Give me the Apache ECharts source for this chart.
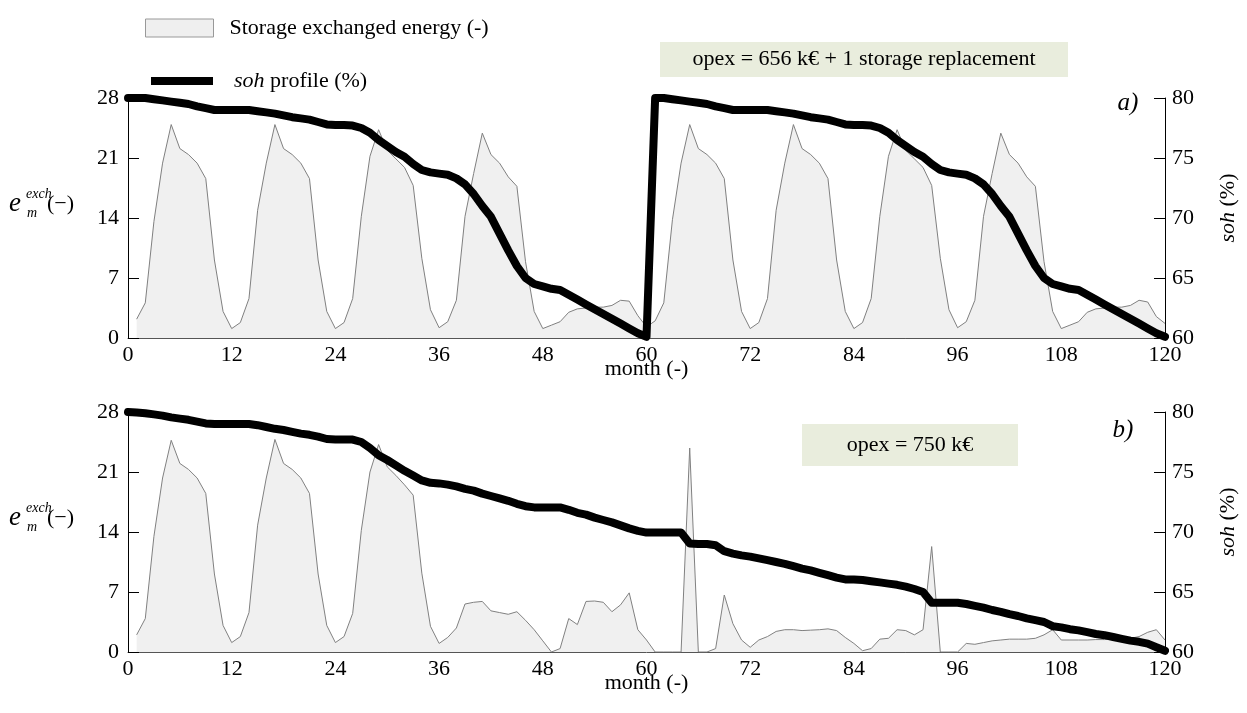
<!DOCTYPE html>
<html>
<head>
<meta charset="utf-8">
<script src="https://cdn.jsdelivr.net/npm/echarts@6/dist/echarts.min.js"></script>
<style>
  html, body { margin: 0; padding: 0; background: #fff; }
  #chart { width: 1247px; height: 713px; }
</style>
</head>
<body>
<div id="chart"></div>
<script>
// Monthly exchanged storage energy, months 1..120 (scenario a: one storage replacement)
const energyA = [
  2.2, 4.1, 13.6, 20.4, 24.9, 22.1, 21.4, 20.4, 18.6, 9.1, 3.1, 1.1,
  1.8, 4.6, 14.9, 20.4, 24.9, 22.1, 21.4, 20.4, 18.6, 9.1, 3.1, 1.1,
  1.8, 4.6, 14.2, 21.2, 24.3, 21.9, 20.9, 19.9, 17.8, 9.3, 3.3, 1.2,
  1.9, 4.4, 14.2, 19.2, 23.9, 21.4, 20.4, 18.8, 17.7, 8.9, 3.1, 1.1,
  1.5, 1.9, 3.0, 3.4, 3.5, 3.6, 3.6, 3.8, 4.4, 4.3, 2.6, 1.3,
  2.0, 4.1, 13.8, 20.4, 24.9, 22.1, 21.4, 20.4, 18.6, 9.1, 3.1, 1.1,
  1.8, 4.6, 14.9, 20.4, 24.9, 22.1, 21.4, 20.4, 18.6, 9.1, 3.1, 1.1,
  1.8, 4.6, 14.2, 21.2, 24.3, 21.9, 20.9, 19.9, 17.8, 9.3, 3.3, 1.2,
  1.9, 4.4, 14.2, 19.2, 23.9, 21.4, 20.4, 18.8, 17.7, 8.9, 3.1, 1.1,
  1.5, 1.9, 3.0, 3.4, 3.5, 3.6, 3.6, 3.8, 4.4, 4.2, 2.5, 1.7
];

// State of health, months 0..120 (scenario a)
const sohA = [
  80.0,
  80.0, 80.0, 79.9, 79.8, 79.7, 79.6, 79.5, 79.3, 79.15, 79.0, 79.0, 79.0,
  79.0, 79.0, 78.9, 78.8, 78.7, 78.55, 78.4, 78.3, 78.2, 78.0, 77.8, 77.75,
  77.75, 77.7, 77.5, 77.1, 76.5, 76.0, 75.5, 75.1, 74.5, 74.0, 73.8, 73.7,
  73.6, 73.3, 72.8, 72.0, 71.0, 70.1, 68.7, 67.3, 66.0, 65.0, 64.5, 64.3,
  64.1, 64.0, 63.6, 63.2, 62.8, 62.4, 62.0, 61.6, 61.2, 60.8, 60.4, 60.1,
  80.0, 80.0, 79.9, 79.8, 79.7, 79.6, 79.5, 79.3, 79.15, 79.0, 79.0, 79.0,
  79.0, 79.0, 78.9, 78.8, 78.7, 78.55, 78.4, 78.3, 78.2, 78.0, 77.8, 77.75,
  77.75, 77.7, 77.5, 77.1, 76.5, 76.0, 75.5, 75.1, 74.5, 74.0, 73.8, 73.7,
  73.6, 73.3, 72.8, 72.0, 71.0, 70.1, 68.7, 67.3, 66.0, 65.0, 64.5, 64.3,
  64.1, 64.0, 63.6, 63.2, 62.8, 62.4, 62.0, 61.6, 61.2, 60.8, 60.4, 60.1
];

// Monthly exchanged storage energy, months 1..120 (scenario b: no replacement)
const energyB = [
  2.0, 3.9, 13.5, 20.3, 24.7, 22.0, 21.3, 20.3, 18.5, 9.1, 3.1, 1.1,
  1.8, 4.6, 14.8, 20.3, 24.8, 22.0, 21.3, 20.3, 18.5, 9.1, 3.1, 1.1,
  1.8, 4.5, 14.2, 21.0, 24.2, 21.6, 20.6, 19.5, 18.3, 9.2, 3.0, 1.0,
  1.7, 2.8, 5.6, 5.8, 5.9, 4.8, 4.6, 4.4, 4.7, 3.7, 2.6, 1.3,
  0.0, 0.4, 3.9, 3.2, 5.9, 5.95, 5.8, 4.7, 5.5, 6.9, 2.6, 1.4,
  0.0, 0.0, 0.0, 0.0, 23.8, 0.0, 0.0, 0.4, 6.65, 3.3, 1.4, 0.55,
  1.4, 1.8, 2.4, 2.6, 2.6, 2.5, 2.55, 2.6, 2.7, 2.5, 1.7, 1.0,
  0.15, 0.4, 1.5, 1.6, 2.6, 2.5, 2.0, 2.6, 12.3, 0.0, 0.0, 0.0,
  1.0, 0.9, 1.1, 1.3, 1.4, 1.5, 1.5, 1.5, 1.6, 2.0, 2.6, 1.4,
  1.4, 1.4, 1.4, 1.45, 1.45, 1.5, 1.5, 1.6, 1.8, 2.3, 2.6, 1.4
];

// State of health, months 0..120 (scenario b)
const sohB = [
  80.0,
  79.95, 79.9, 79.8, 79.7, 79.55, 79.45, 79.35, 79.2, 79.05, 79.0, 79.0, 79.0,
  79.0, 79.0, 78.9, 78.75, 78.6, 78.5, 78.35, 78.2, 78.1, 77.95, 77.75, 77.7,
  77.7, 77.7, 77.5, 77.0, 76.4, 76.0, 75.55, 75.1, 74.7, 74.3, 74.1, 74.05,
  73.95, 73.8, 73.6, 73.45, 73.2, 73.0, 72.8, 72.6, 72.35, 72.15, 72.05, 72.05,
  72.05, 72.05, 71.85, 71.6, 71.45, 71.2, 71.0, 70.8, 70.55, 70.3, 70.1, 69.95,
  69.95, 69.95, 69.95, 69.95, 69.05, 69.0, 69.0, 68.9, 68.4, 68.2, 68.05, 67.95,
  67.8, 67.65, 67.5, 67.35, 67.15, 66.95, 66.8, 66.6, 66.4, 66.2, 66.05, 66.05,
  66.0, 65.9, 65.8, 65.7, 65.6, 65.45, 65.25, 65.0, 64.1, 64.1, 64.1, 64.1,
  64.0, 63.85, 63.7, 63.5, 63.35, 63.15, 63.0, 62.8, 62.65, 62.5, 62.15, 62.05,
  61.9, 61.8, 61.65, 61.5, 61.4, 61.25, 61.1, 60.95, 60.85, 60.7, 60.4, 60.1
];

const monthTicks = { min: 0, max: 120, interval: 12 };
const energyTicks = { min: 0, max: 28, interval: 7 };
const sohTicks = { min: 60, max: 80, interval: 5 };

const opexA = 'opex = 656 k€ + 1 storage replacement';
const opexB = 'opex = 750 k€';
const energyName = 'Storage exchanged energy (-)';
const sohName = 'soh profile (%)';

const FONT = '"Liberation Serif", "Times New Roman", serif';

const chart = echarts.init(document.getElementById('chart'));

const labelStyle = { color: '#000', fontFamily: FONT, fontSize: 22 };

function xAxisFor(gridIndex) {
  return {
    type: 'value', gridIndex,
    min: monthTicks.min, max: monthTicks.max, interval: monthTicks.interval,
    axisLine: { show: true, lineStyle: { color: '#555', width: 1 } },
    axisTick: { show: false },
    splitLine: { show: false },
    axisLabel: Object.assign({ margin: 6 }, labelStyle),
    name: 'month (-)', nameLocation: 'middle', nameGap: 20,
    nameMoveOverlap: false,
    nameTextStyle: labelStyle
  };
}

function leftAxisFor(gridIndex) {
  return {
    type: 'value', gridIndex, position: 'left',
    min: energyTicks.min, max: energyTicks.max, interval: energyTicks.interval,
    axisLine: { show: true, lineStyle: { color: '#000', width: 1 } },
    axisTick: { show: true, inside: true, length: 11, lineStyle: { color: '#000' } },
    splitLine: { show: false },
    axisLabel: Object.assign({ margin: 9 }, labelStyle)
  };
}

function rightAxisFor(gridIndex) {
  return {
    type: 'value', gridIndex, position: 'right',
    min: sohTicks.min, max: sohTicks.max, interval: sohTicks.interval,
    axisLine: { show: true, lineStyle: { color: '#000', width: 1 } },
    axisTick: { show: true, inside: true, length: 11, lineStyle: { color: '#000' } },
    splitLine: { show: false },
    axisLabel: Object.assign({ margin: 7 }, labelStyle),
    name: '{i|soh} (%)', nameLocation: 'middle', nameRotate: 90, nameGap: 52,
    nameMoveOverlap: false,
    nameTextStyle: Object.assign({}, labelStyle, {
      padding: [0, 0, 0, 20],
      rich: { i: { fontStyle: 'italic', fontFamily: FONT, fontSize: 22, color: '#000' } }
    })
  };
}

function energySeries(data, xi, yi) {
  return {
    name: energyName, type: 'line', xAxisIndex: xi, yAxisIndex: yi,
    data: data.map((v, i) => [i + 1, v]),
    symbol: 'none', silent: true, z: 2,
    lineStyle: { color: '#808080', width: 1 },
    itemStyle: { color: '#808080' },
    areaStyle: { color: '#f0f0f0', opacity: 1 }
  };
}

function sohSeries(data, xi, yi) {
  return {
    name: sohName, type: 'line', xAxisIndex: xi, yAxisIndex: yi,
    data: data.map((v, i) => [i, v]),
    symbol: 'none', silent: true, z: 3,
    lineStyle: { color: '#000', width: 8, cap: 'round', join: 'round' },
    itemStyle: { color: '#000' }
  };
}

// e_m^exch (−) axis caption, drawn as separate glyph pieces
function energyCaption(cy) {
  const base = { fill: '#000', verticalAlign: 'middle', align: 'left' };
  return [
    { type: 'text', x: 9, y: cy, style: Object.assign({ text: 'e', font: 'italic 27px ' + FONT }, base) },
    { type: 'text', x: 26, y: cy - 10, style: Object.assign({ text: 'exch', font: 'italic 14px ' + FONT }, base) },
    { type: 'text', x: 27, y: cy + 9, style: Object.assign({ text: 'm', font: 'italic 14px ' + FONT }, base) },
    { type: 'text', x: 47, y: cy, style: Object.assign({ text: '(−)', font: '22px ' + FONT }, base) }
  ];
}

function opexBox(x, y, w, h, text) {
  return [
    { type: 'rect', shape: { x, y, width: w, height: h }, style: { fill: '#e9eddd' }, z: 10 },
    { type: 'text', x: x + w / 2, y: y + h / 2, z: 11,
      style: { text, font: '22px ' + FONT, fill: '#000', align: 'center', verticalAlign: 'middle' } }
  ];
}

const option = {
  animation: false,
  backgroundColor: '#fff',
  grid: [
    { left: 128, right: 80, top: 98, height: 240 },
    { left: 128, right: 80, top: 412, height: 240 }
  ],
  legend: [
    {
      data: [{ name: energyName, icon: 'rect',
               itemStyle: { color: '#efefef', borderColor: '#999', borderWidth: 1 } }],
      left: 140, top: 12, itemWidth: 68, itemHeight: 18, selectedMode: false,
      textStyle: { color: '#000', fontFamily: FONT, fontSize: 22, padding: [0, 0, 0, 11] }
    },
    {
      data: [{ name: sohName, icon: 'rect', itemStyle: { color: '#000', borderWidth: 0 } }],
      left: 146, top: 65, itemWidth: 62, itemHeight: 8, selectedMode: false,
      formatter: () => '{i|soh} profile (%)',
      textStyle: {
        color: '#000', fontFamily: FONT, fontSize: 22, padding: [0, 0, 0, 16],
        rich: { i: { fontStyle: 'italic', fontFamily: FONT, fontSize: 22, color: '#000' } }
      }
    }
  ],
  xAxis: [xAxisFor(0), xAxisFor(1)],
  yAxis: [leftAxisFor(0), rightAxisFor(0), leftAxisFor(1), rightAxisFor(1)],
  series: [
    energySeries(energyA, 0, 0),
    sohSeries(sohA, 0, 1),
    energySeries(energyB, 1, 2),
    sohSeries(sohB, 1, 3)
  ],
  graphic: [].concat(
    opexBox(660, 42, 408, 35, opexA),
    opexBox(802, 424, 216, 42, opexB),
    energyCaption(204),
    energyCaption(518),
    [
      { type: 'text', x: 1128, y: 103, style: { text: 'a)', font: 'italic 25px ' + FONT, fill: '#000', align: 'center', verticalAlign: 'middle' } },
      { type: 'text', x: 1123, y: 430, style: { text: 'b)', font: 'italic 25px ' + FONT, fill: '#000', align: 'center', verticalAlign: 'middle' } }
    ]
  )
};

chart.setOption(option);
</script>
</body>
</html>
